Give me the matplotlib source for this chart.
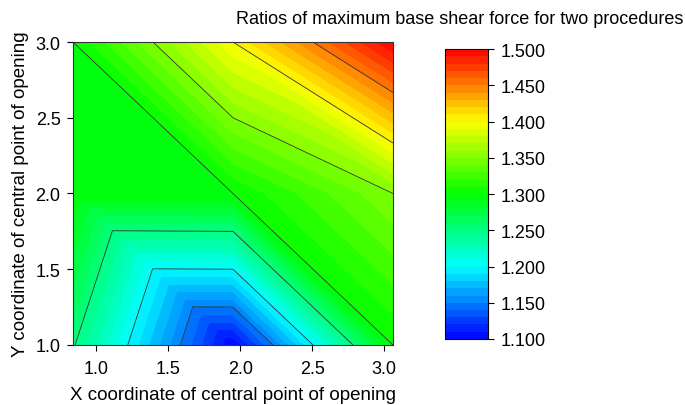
import matplotlib
matplotlib.use("Agg")
import matplotlib.pyplot as plt
import matplotlib.tri as mtri
from matplotlib.colors import LinearSegmentedColormap
import numpy as np

plt.rcParams["font.family"] = ["Liberation Sans", "DejaVu Sans"]

# grid nodes (x, y) and ratio values
x_nodes = [0.84, 1.95, 3.06]
y_nodes = [1.0, 2.0, 3.0]
ratio_y1 = [1.252, 1.10, 1.30]
ratio_y2 = [1.299, 1.30, 1.35]
ratio_y3 = [1.30, 1.40, 1.50]

fill_levels = np.round(np.arange(1.10, 1.5001, 0.01), 3)
line_levels = [1.15, 1.20, 1.25, 1.30, 1.35, 1.40, 1.45]
cbar_ticks = [1.1, 1.15, 1.2, 1.25, 1.3, 1.35, 1.4, 1.45, 1.5]

xx, yy = np.meshgrid(x_nodes, y_nodes)
zz = np.array([ratio_y1, ratio_y2, ratio_y3])


def node(c, r):
    return r * len(x_nodes) + c


# each cell split along its upper-left / lower-right diagonal
tris = []
for r in range(len(y_nodes) - 1):
    for c in range(len(x_nodes) - 1):
        tris.append([node(c, r), node(c + 1, r), node(c, r + 1)])
        tris.append([node(c + 1, r), node(c + 1, r + 1), node(c, r + 1)])

tri = mtri.Triangulation(xx.ravel(), yy.ravel(), tris)

cmap = LinearSegmentedColormap.from_list(
    "bcgyr", ["#0000ff", "#00ffff", "#00ff00", "#ffff00", "#ff0000"])

fig = plt.figure(figsize=(6.85, 4.06), dpi=100)
ax = fig.add_axes([0.1066, 0.148, 0.467, 0.746])
cf = ax.tricontourf(tri, zz.ravel(), levels=fill_levels, cmap=cmap,
                    vmin=1.1, vmax=1.5, extend="neither")
ax.tricontour(tri, zz.ravel(), levels=line_levels, colors="#333333",
              linewidths=0.6)

ax.set_xlim(0.84, 3.06)
ax.set_ylim(1.0, 3.0)
ax.set_xticks([1.0, 1.5, 2.0, 2.5, 3.0])
ax.set_yticks([1.0, 1.5, 2.0, 2.5, 3.0])
ax.xaxis.set_major_formatter(matplotlib.ticker.FormatStrFormatter("%.1f"))
ax.yaxis.set_major_formatter(matplotlib.ticker.FormatStrFormatter("%.1f"))
ax.tick_params(labelsize=13, direction="out", length=4, width=0.8,
               color="black")
ax.tick_params(axis="x", pad=7)
ax.tick_params(axis="y", pad=5)
ax.set_xlabel("X coordinate of central point of opening", fontsize=13.5,
              labelpad=6)
ax.set_ylabel("Y coordinate of central point of opening", fontsize=13.5,
              labelpad=5)
for s in ax.spines.values():
    s.set_color("#333333")

cax = fig.add_axes([0.6496, 0.1626, 0.0628, 0.714])
cb = fig.colorbar(cf, cax=cax, ticks=cbar_ticks, format="%.3f")
cb.ax.tick_params(labelsize=13, direction="out", length=4, width=0.8, pad=5)
cb.outline.set_linewidth(0.8)

fig.text(0.997, 0.951, "Ratios of maximum base shear force for two procedures",
         ha="right", va="center", fontsize=13)

fig.savefig("out.png", dpi=100)
